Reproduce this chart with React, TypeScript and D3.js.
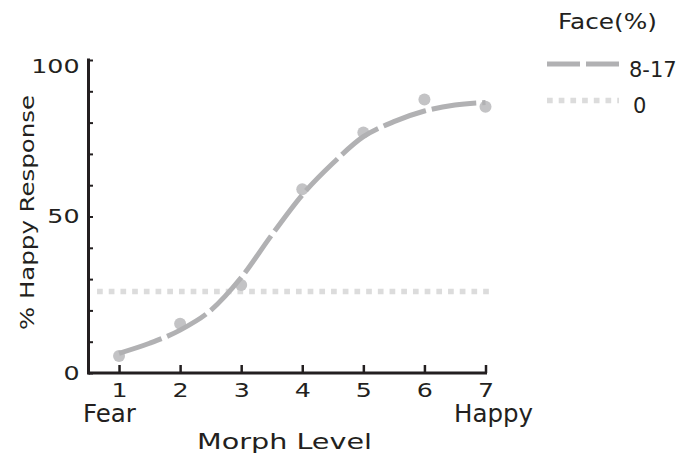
import React, { useEffect, useRef } from "react";
import * as d3 from "d3";

// observed proportions of "happy" responses per morph level
const morphLevels = [1, 2, 3, 4, 5, 6, 7];
const happyObserved = [5.4, 15.7, 28.1, 58.7, 76.8, 87.4, 85.1];

// fitted curve at half steps
const fitLevels = [1, 1.5, 2, 2.5, 3, 3.5, 4, 4.5, 5, 5.5, 6, 6.5, 7];
const happyFit = [6.3, 9.5, 13.7, 20.0, 30.5, 44.1, 56.9, 67.0, 75.5, 80.3, 83.7, 85.6, 86.4];

// 0% face condition (flat line)
const chanceLevels = [0.64, 7.12];
const chanceValues = [26, 26];

const xTicks = [1, 2, 3, 4, 5, 6, 7];
const yTicks = [0, 10, 20, 30, 40, 50, 60, 70, 80, 90, 100];
const yLabels = [0, 50, 100];
const legendItems = ["8-17", "0"];

const W = 684;
const H = 460;
const INK = "#231f20";
const FIT_COLOR = "#b1b1b3";
const DOT_COLOR = "#c3c3c5";
const FLAT_COLOR = "#dcdcdc";

const App = () => {
  const ref = useRef<SVGSVGElement>(null);

  useEffect(() => {
    const svg = d3.select(ref.current);
    svg.selectAll("*").remove();

    const x = d3.scaleLinear().domain([0.5, 7]).range([88.5, 485.5]);
    const y = d3.scaleLinear().domain([0, 100]).range([373, 60]);

    // flat 0% line
    const flat = d3
      .line<number>()
      .x((d) => x(d))
      .y((_, i) => y(chanceValues[i]));
    svg
      .append("path")
      .attr("d", flat(chanceLevels))
      .attr("fill", "none")
      .attr("stroke", FLAT_COLOR)
      .attr("stroke-width", 5.5)
      .attr("stroke-dasharray", "5.7,6");

    // observed points
    svg
      .append("g")
      .selectAll("circle")
      .data(morphLevels)
      .enter()
      .append("circle")
      .attr("cx", (d) => x(d))
      .attr("cy", (_, i) => y(happyObserved[i]))
      .attr("r", 6)
      .attr("fill", DOT_COLOR);

    // fitted curve
    const fit = d3
      .line<number>()
      .x((d) => x(d))
      .y((_, i) => y(happyFit[i]))
      .curve(d3.curveMonotoneX);
    svg
      .append("path")
      .attr("d", fit(fitLevels))
      .attr("fill", "none")
      .attr("stroke", FIT_COLOR)
      .attr("stroke-width", 5)
      .attr("stroke-dasharray", "45,6");

    // X-axis
    const gx = svg
      .append("g")
      .attr("transform", `translate(0,${y(0)})`)
      .call(
        d3
          .axisBottom(x)
          .tickValues(xTicks)
          .tickFormat(d3.format("d"))
          .tickSizeInner(-8)
          .tickSizeOuter(0)
          .tickPadding(10)
      );
    gx.select(".domain").attr("stroke", INK).attr("stroke-width", 3).attr("d", `M${x(0.5)},0H${x(7) + 1.5}`);
    gx.selectAll(".tick line").attr("stroke", INK).attr("stroke-width", 2.5);
    gx.selectAll(".tick text")
      .attr("fill", INK)
      .attr("font-family", "DejaVu Sans")
      .attr("font-size", 19.5)
      .attr("transform", "scale(1.3,1)");

    // Y-axis
    const gy = svg
      .append("g")
      .attr("transform", `translate(${x(0.5)},0)`)
      .call(
        d3
          .axisLeft(y)
          .tickValues(yTicks)
          .tickFormat((d) => (yLabels.includes(d as number) ? String(d) : ""))
          .tickSizeInner(-4.5)
          .tickSizeOuter(0)
          .tickPadding(9)
      );
    gy.select(".domain").attr("stroke", INK).attr("stroke-width", 3).attr("d", `M0,${y(0) + 1.5}V${y(100) - 1.5}`);
    gy.selectAll(".tick line").attr("stroke", INK).attr("stroke-width", 2);
    gy.selectAll(".tick text")
      .attr("fill", INK)
      .attr("font-family", "DejaVu Sans")
      .attr("font-size", 19.5)
      .attr("x", -9 / 1.3)
      .attr("transform", "scale(1.3,1)");
    svg.selectAll(".tick").filter((d) => d === 100).select("text").attr("dy", "0.62em");

    // end labels
    svg
      .append("text")
      .attr("x", 83)
      .attr("y", 422)
      .attr("fill", INK)
      .attr("font-family", "DejaVu Sans")
      .attr("font-size", 24.5)
      .text("Fear");
    svg
      .append("text")
      .attr("x", 533)
      .attr("y", 422)
      .attr("text-anchor", "end")
      .attr("fill", INK)
      .attr("font-family", "DejaVu Sans")
      .attr("font-size", 24.5)
      .text("Happy");

    // axis titles
    svg
      .append("text")
      .attr("x", 197)
      .attr("y", 449)
      .attr("fill", INK)
      .attr("font-family", "DejaVu Sans")
      .attr("font-size", 21)
      .attr("textLength", 175)
      .attr("lengthAdjust", "spacingAndGlyphs")
      .text("Morph Level");
    svg
      .append("text")
      .attr("transform", `translate(34,330)rotate(-90)`)
      .attr("fill", INK)
      .attr("font-family", "DejaVu Sans")
      .attr("font-size", 19)
      .attr("textLength", 235)
      .attr("lengthAdjust", "spacingAndGlyphs")
      .text("% Happy Response");

    // legend
    svg
      .append("text")
      .attr("x", 558)
      .attr("y", 29)
      .attr("fill", INK)
      .attr("font-family", "DejaVu Sans")
      .attr("font-size", 21)
      .attr("textLength", 99)
      .attr("lengthAdjust", "spacingAndGlyphs")
      .text("Face(%)");

    const legend = svg
      .append("g")
      .selectAll("g")
      .data(legendItems)
      .enter()
      .append("g")
      .attr("transform", (_, i) => `translate(547,${64 + i * 36.5})`);
    legend
      .append("line")
      .attr("x1", 0)
      .attr("x2", 72)
      .attr("stroke", (_, i) => (i === 0 ? FIT_COLOR : FLAT_COLOR))
      .attr("stroke-width", (_, i) => (i === 0 ? 5 : 5.5))
      .attr("stroke-dasharray", (_, i) => (i === 0 ? "33,6" : "5.7,6"));
    legend
      .append("text")
      .attr("x", (_, i) => (i === 0 ? 82 : 86))
      .attr("y", 12.5)
      .attr("fill", INK)
      .attr("font-family", "DejaVu Sans")
      .attr("font-size", 21)
      .text((d) => d);
  }, []);

  return (
    <svg
      ref={ref}
      width={W}
      height={H}
      style={{ position: "absolute", left: 0, top: 0, background: "#fff" }}
    />
  );
};

export default App;
